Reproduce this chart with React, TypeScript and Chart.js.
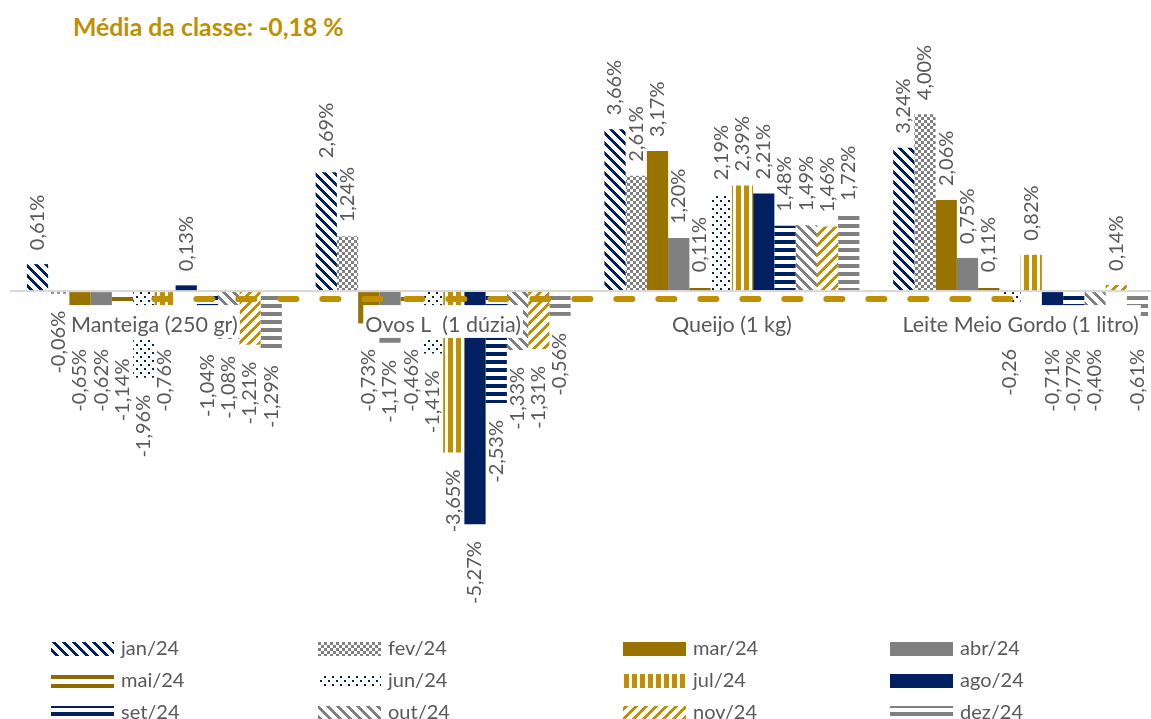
import React, { useEffect, useRef } from "react";
import { Chart, registerables } from "chart.js";

Chart.register(...registerables);

// ---------- data ----------
const CATEGORIES = ["Manteiga (250 gr)", "Ovos L  (1 dúzia)", "Queijo (1 kg)", "Leite Meio Gordo (1 litro)"];
const MONTHS = ["jan/24", "fev/24", "mar/24", "abr/24", "mai/24", "jun/24", "jul/24", "ago/24", "set/24", "out/24", "nov/24", "dez/24"];

const JAN_24 = [0.61, 2.69, 3.66, 3.24];
const FEV_24 = [-0.06, 1.24, 2.61, 4.0];
const MAR_24 = [-0.65, -0.73, 3.17, 2.06];
const ABR_24 = [-0.62, -1.17, 1.2, 0.75];
const MAI_24 = [-1.14, -0.46, 0.11, 0.11];
const JUN_24 = [-1.96, -1.41, 2.19, -0.26];
const JUL_24 = [-0.76, -3.65, 2.39, 0.82];
const AGO_24 = [0.13, -5.27, 2.21, -0.71];
const SET_24 = [-1.04, -2.53, 1.48, -0.77];
const OUT_24 = [-1.08, -1.33, 1.49, -0.4];
const NOV_24 = [-1.21, -1.31, 1.46, 0.14];
const DEZ_24 = [-1.29, -0.56, 1.72, -0.61];

const SERIES = [JAN_24, FEV_24, MAR_24, ABR_24, MAI_24, JUN_24, JUL_24, AGO_24, SET_24, OUT_24, NOV_24, DEZ_24];

const CLASS_AVERAGE = -0.18;
const TITLE_PREFIX = "Média da classe: ";
// labels shown without the "%" sign in the source: [month index, category index]
const LABELS_WITHOUT_PERCENT: Array<[number, number]> = [[5, 3]];

const Y_MIN = -7.55;
const Y_MAX = 5;

// ---------- styles ----------
const FONT = "Lato, 'Open Sans', sans-serif";
const NAVY = "#002060";
const GOLD = "#C09000";
const DARK_GOLD = "#997300";
const BROWN = "#8C6A00";
const GRAY = "#808080";
const TEXT = "#595959";
const CAT_FONT_SIZE = 21.5;
const CAT_TICK_PADDING = 21;

const fmt = (v: number) => v.toFixed(2).replace(".", ",");

const mod = (a: number, n: number) => ((a % n) + n) % n;

function pixelPattern(size: number, fg: string, test: (x: number, y: number) => boolean, bg = "#FFFFFF"): CanvasPattern | string {
  const c = document.createElement("canvas");
  c.width = size;
  c.height = size;
  const g = c.getContext("2d");
  if (!g) return fg;
  g.fillStyle = bg;
  g.fillRect(0, 0, size, size);
  g.fillStyle = fg;
  for (let y = 0; y < size; y++) {
    for (let x = 0; x < size; x++) {
      if (test(x, y)) g.fillRect(x, y, 1, 1);
    }
  }
  return g.createPattern(c, "repeat") || fg;
}

function monthFills(): Array<CanvasPattern | string> {
  return [
    pixelPattern(10, NAVY, (x, y) => mod(x - y, 10) < 4), // jan: wide downward diagonal
    pixelPattern(6, GRAY, (x, y) => (Math.floor(x / 3) + Math.floor(y / 3)) % 2 === 0), // fev: checker
    DARK_GOLD, // mar
    GRAY, // abr
    pixelPattern(9, BROWN, (_x, y) => y % 9 < 4), // mai: horizontal
    pixelPattern(8, NAVY, (x, y) => (x % 8 < 2 && y % 8 < 2) || (mod(x - 4, 8) < 2 && mod(y - 4, 8) < 2)), // jun: dots
    pixelPattern(8, GOLD, (x) => x % 8 < 5), // jul: vertical
    NAVY, // ago
    pixelPattern(8, NAVY, (_x, y) => y % 8 < 4), // set: horizontal
    pixelPattern(10, GRAY, (x, y) => mod(x - y, 10) < 4), // out: downward diagonal
    pixelPattern(10, GOLD, (x, y) => mod(x + y, 10) < 4), // nov: upward diagonal
    pixelPattern(8, GRAY, (_x, y) => y % 8 < 4), // dez: horizontal
  ];
}

const valueLabelPlugin = {
  id: "valueLabels",
  afterDraw(chart: any) {
    const ctx: CanvasRenderingContext2D = chart.ctx;
    const xScale = chart.scales.x;
    const yScale = chart.scales.y;
    const zeroY = yScale.getPixelForValue(0);
    // horizontal extent of each category label (to keep value labels clear of it)
    ctx.save();
    ctx.font = `${CAT_FONT_SIZE}px ${FONT}`;
    const catSpans = CATEGORIES.map((c, i) => {
      const cx = xScale.getPixelForTick(i);
      const w = ctx.measureText(c).width;
      return [cx - w / 2 - 2, cx + w / 2 + 2];
    });
    const catBottom = zeroY + CAT_TICK_PADDING + CAT_FONT_SIZE * 1.2 + 21;
    ctx.restore();

    ctx.save();
    ctx.font = `20px ${FONT}`;
    ctx.fillStyle = TEXT;
    ctx.textBaseline = "middle";
    chart.data.datasets.forEach((ds: any, di: number) => {
      if (ds.type !== "bar") return;
      const monthIndex = ds.monthIndex as number;
      const meta = chart.getDatasetMeta(di);
      meta.data.forEach((bar: any, i: number) => {
        const v = ds.data[i] as number;
        const noPct = LABELS_WITHOUT_PERCENT.some(([m, c]) => m === monthIndex && c === i);
        const text = fmt(v) + (noPct ? "" : "%");
        const { x, y } = bar.getProps(["x", "y"], true);
        ctx.save();
        if (v >= 0) {
          ctx.translate(x, y);
          ctx.rotate(-Math.PI / 2);
          ctx.textAlign = "left";
          ctx.fillText(text, 14, 0);
        } else {
          let top = y + 17;
          const [l, r] = catSpans[i];
          if (x + 8 > l && x - 8 < r) top = Math.max(top, catBottom - 10);
          ctx.translate(x, top);
          ctx.rotate(-Math.PI / 2);
          ctx.textAlign = "right";
          ctx.fillText(text, 0, 0);
        }
        ctx.restore();
      });
    });
    ctx.restore();
  },
};

const LEGEND_COLS = [51, 318, 623, 890];
const LEGEND_TOP = 642;
const LEGEND_ROW_STEP = 32;

const gridLegendPlugin = {
  id: "gridLegend",
  afterDraw(chart: any) {
    const ctx: CanvasRenderingContext2D = chart.ctx;
    ctx.save();
    ctx.font = `20px ${FONT}`;
    ctx.textBaseline = "middle";
    ctx.textAlign = "left";
    const bars = chart.data.datasets.filter((d: any) => d.type === "bar");
    bars.forEach((ds: any, i: number) => {
      const col = i % 4;
      const row = Math.floor(i / 4);
      const x = LEGEND_COLS[col];
      const top = LEGEND_TOP + row * LEGEND_ROW_STEP;
      ctx.fillStyle = ds.backgroundColor;
      ctx.fillRect(x, top, 63, 14);
      ctx.fillStyle = TEXT;
      ctx.fillText(ds.label, x + 70, top + 7);
    });
    ctx.restore();
  },
};

export default function App() {
  const canvasRef = useRef<HTMLCanvasElement | null>(null);

  useEffect(() => {
    const canvas = canvasRef.current;
    if (!canvas) return;
    const fills = monthFills();

    const barSets = SERIES.map((values, i) => ({
      type: "bar" as const,
      label: MONTHS[i],
      monthIndex: i,
      data: values,
      backgroundColor: fills[i],
      borderWidth: 0,
      categoryPercentage: 0.883,
      barPercentage: 1,
      order: 1,
    }));

    const avgSet = {
      type: "line" as const,
      label: "Média da classe",
      data: CATEGORIES.map(() => CLASS_AVERAGE),
      borderColor: GOLD,
      borderWidth: 6,
      borderDash: [16, 26],
      borderCapStyle: "round" as const,
      pointRadius: 0,
      pointHoverRadius: 0,
      fill: false,
      order: 0,
    };

    const chart = new Chart(canvas, {
      type: "bar",
      data: {
        labels: CATEGORIES,
        datasets: [...barSets, avgSet] as any,
      },
      options: {
        responsive: false,
        animation: false,
        devicePixelRatio: 1,
        layout: { padding: { left: 10, right: 3, top: 70, bottom: 94 } },
        plugins: {
          legend: { display: false },
          title: { display: false },
          tooltip: { enabled: false },
        },
        scales: {
          x: {
            axis: "x",
            position: { y: 0 } as any,
            offset: true,
            grid: { display: false, drawTicks: false },
            border: { display: false },
            ticks: {
              z: 1,
              autoSkip: false,
              maxRotation: 0,
              minRotation: 0,
              padding: CAT_TICK_PADDING,
              color: TEXT,
              font: { family: FONT, size: CAT_FONT_SIZE },
              showLabelBackdrop: true,
              backdropColor: "#FFFFFF",
              backdropPadding: { top: 7, bottom: 0, left: 2, right: 2 },
            } as any,
          },
          y: {
            min: Y_MIN,
            max: Y_MAX,
            grid: {
              drawTicks: false,
              lineWidth: 2,
              color: (c: any) => (c.tick && c.tick.value === 0 ? "#D9D9D9" : "rgba(0,0,0,0)"),
            },
            border: { display: false },
            ticks: { display: false, stepSize: 1 },
          },
        },
      } as any,
      plugins: [valueLabelPlugin, gridLegendPlugin],
    });

    return () => chart.destroy();
  }, []);

  return (
    <div style={{ position: "fixed", left: 0, top: 0, width: 1151, height: 719, overflow: "hidden", background: "#FFFFFF" }}>
      <div
        style={{
          position: "absolute",
          left: 73,
          top: 15,
          font: `bold 24.8px ${FONT}`,
          lineHeight: "24px",
          color: "#BF9000",
          whiteSpace: "nowrap",
        }}
      >
        {TITLE_PREFIX + fmt(CLASS_AVERAGE) + " %"}
      </div>
      <canvas ref={canvasRef} width={1168} height={719} style={{ position: "absolute", left: 0, top: 0, display: "block" }} />
    </div>
  );
}
